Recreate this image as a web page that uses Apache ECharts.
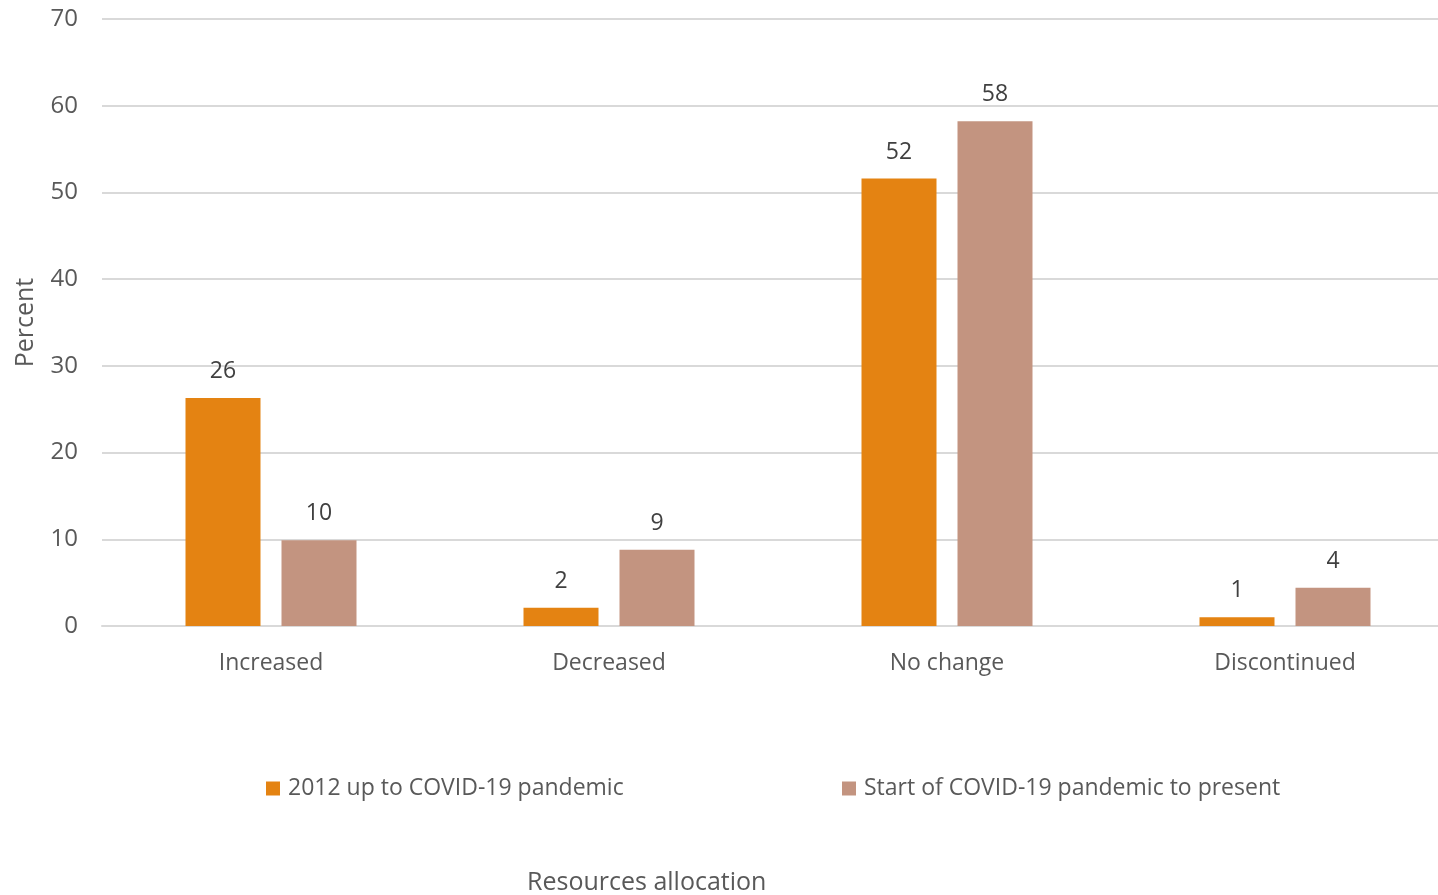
<!DOCTYPE html>
<html>
<head>
<meta charset="utf-8">
<script src="https://cdn.jsdelivr.net/npm/echarts@6/dist/echarts.min.js"></script>
<style>html,body{margin:0;padding:0;background:#fff;}#c{width:1438px;height:895px;}</style>
</head>
<body>
<div id="c"></div>
<script>
var categories = ['Increased', 'Decreased', 'No change', 'Discontinued'];
var seriesNames = ['2012 up to COVID-19 pandemic', 'Start of COVID-19 pandemic to present'];
var preCovid = [26.3, 2.1, 51.6, 1.0];
var sinceCovid = [9.9, 8.8, 58.2, 4.4];
var yTicks = [0, 10, 20, 30, 40, 50, 60, 70];

var FONT = 'Open Sans';
var chart = echarts.init(document.getElementById('c'));
var labelCfg = {
  show: true, position: 'top', distance: 15,
  color: '#404040', fontFamily: FONT, fontSize: 23,
  formatter: function (p) { return Math.round(p.value); }
};
var legendText = { color: '#595959', fontFamily: FONT, fontSize: 23, padding: [0, 0, 0, 3] };
chart.setOption({
  animation: false,
  grid: { left: 102, right: -16, top: 19, bottom: 269, containLabel: false, outerBoundsMode: 'none' },
  graphic: [{
    type: 'rect', shape: { x: 1438, y: 0, width: 40, height: 895 }, style: { fill: '#fff' }, z: 100
  }],
  title: {
    text: 'Resources allocation', left: 522, top: 865,
    textStyle: { color: '#595959', fontFamily: FONT, fontSize: 25, fontWeight: 'normal' }
  },
  legend: [
    { data: [seriesNames[0]], left: 266, top: 777, padding: 0, itemWidth: 14, itemHeight: 14, itemGap: 8,
      textStyle: legendText, icon: 'rect' },
    { data: [seriesNames[1]], left: 842, top: 777, padding: 0, itemWidth: 14, itemHeight: 14, itemGap: 8,
      textStyle: legendText, icon: 'rect' }
  ],
  xAxis: {
    type: 'category', data: categories,
    axisLine: { lineStyle: { color: '#D9D9D9', width: 2 } },
    axisTick: { show: false },
    axisLabel: { color: '#595959', fontFamily: FONT, fontSize: 23, margin: 26 }
  },
  yAxis: {
    type: 'value', min: yTicks[0], max: yTicks[yTicks.length - 1], interval: 10,
    name: 'Percent', nameLocation: 'middle', nameGap: 64, nameRotate: 90,
    nameTextStyle: { color: '#595959', fontFamily: FONT, fontSize: 25 },
    axisLine: { show: false }, axisTick: { show: false },
    axisLabel: { color: '#595959', fontFamily: FONT, fontSize: 24, margin: 24 },
    splitLine: { lineStyle: { color: '#D9D9D9', width: 2 } }
  },
  series: [
    { name: seriesNames[0], type: 'bar', data: preCovid, barWidth: 75, barGap: '28%',
      itemStyle: { color: '#E48312' }, label: labelCfg },
    { name: seriesNames[1], type: 'bar', data: sinceCovid, barWidth: 75,
      itemStyle: { color: '#C39480' }, label: labelCfg }
  ]
});
</script>
</body>
</html>
